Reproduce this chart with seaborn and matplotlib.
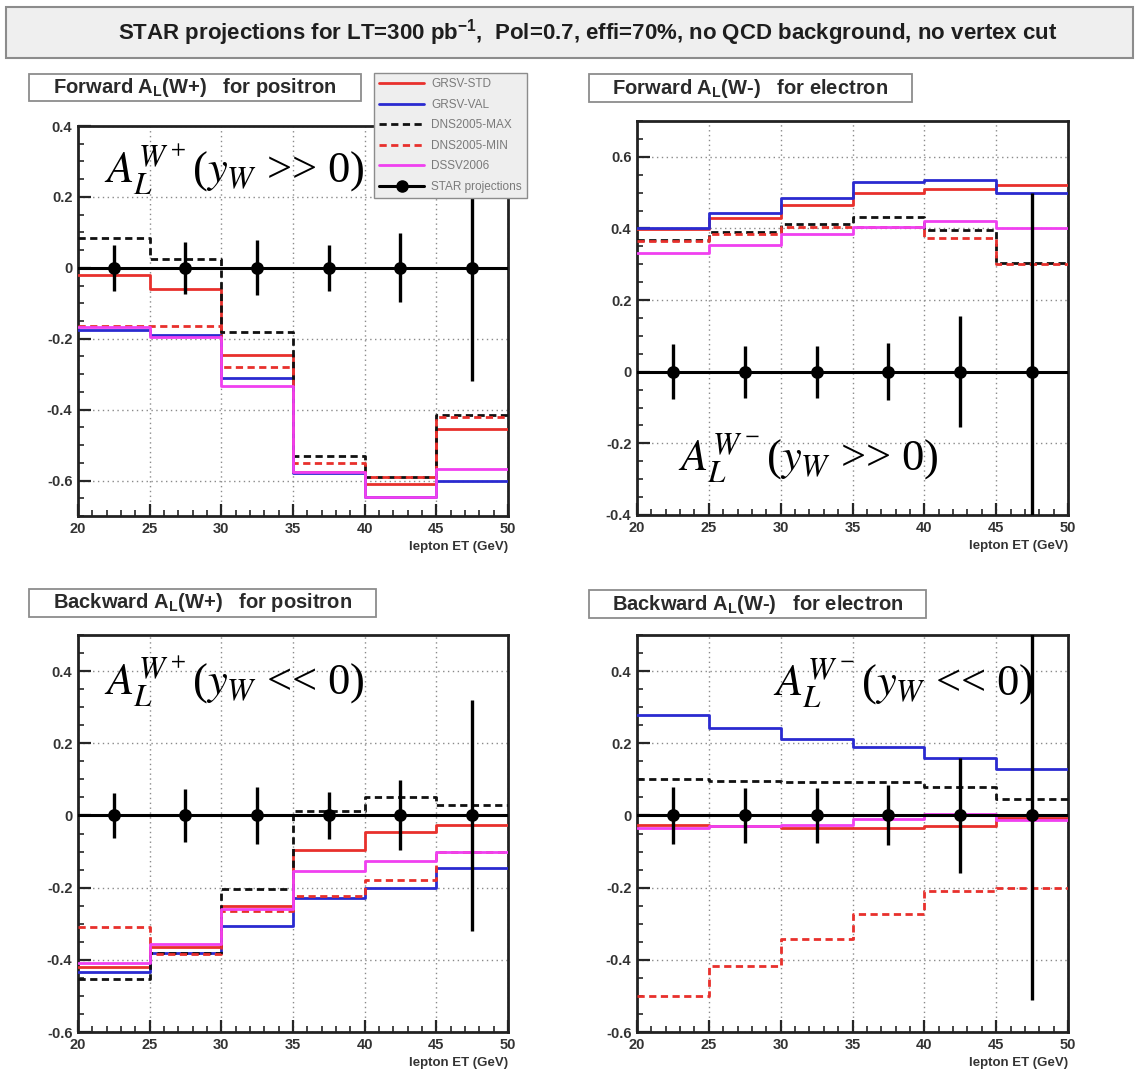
import numpy as np
import pandas as pd
import matplotlib
matplotlib.use("Agg")
import matplotlib.pyplot as plt
import seaborn as sns
from matplotlib.patches import Rectangle
from matplotlib.lines import Line2D
from matplotlib.ticker import MultipleLocator, FuncFormatter

# ---------------- data ----------------
ET_EDGES = [20, 25, 30, 35, 40, 45, 50]
ET_CENTERS = [22.5, 27.5, 32.5, 37.5, 42.5, 47.5]
MODELS = ["GRSV-STD", "GRSV-VAL", "DNS2005-MAX", "DNS2005-MIN", "DSSV2006"]

# Forward A_L(W+) positron
fwd_wp_std = [-0.02, -0.06, -0.245, -0.575, -0.61, -0.455]
fwd_wp_val = [-0.175, -0.19, -0.31, -0.58, -0.645, -0.60]
fwd_wp_max = [0.085, 0.025, -0.18, -0.53, -0.59, -0.415]
fwd_wp_min = [-0.165, -0.165, -0.28, -0.55, -0.59, -0.42]
fwd_wp_dssv = [-0.167, -0.195, -0.333, -0.575, -0.645, -0.567]
fwd_wp_star = [0, 0, 0, 0, 0, 0]
fwd_wp_err = [0.065, 0.074, 0.078, 0.065, 0.097, 0.32]

# Forward A_L(W-) electron
fwd_wm_std = [0.398, 0.43, 0.465, 0.498, 0.51, 0.52]
fwd_wm_val = [0.40, 0.443, 0.486, 0.53, 0.535, 0.498]
fwd_wm_max = [0.367, 0.39, 0.413, 0.433, 0.396, 0.303]
fwd_wm_min = [0.365, 0.385, 0.405, 0.405, 0.373, 0.30]
fwd_wm_dssv = [0.332, 0.355, 0.385, 0.405, 0.42, 0.40]
fwd_wm_star = [0, 0, 0, 0, 0, 0]
fwd_wm_err = [0.077, 0.072, 0.072, 0.08, 0.155, 0.5]

# Backward A_L(W+) positron
bwd_wp_std = [-0.42, -0.365, -0.25, -0.095, -0.047, -0.027]
bwd_wp_val = [-0.435, -0.38, -0.305, -0.228, -0.20, -0.145]
bwd_wp_max = [-0.452, -0.38, -0.205, 0.013, 0.05, 0.028]
bwd_wp_min = [-0.31, -0.385, -0.265, -0.222, -0.18, -0.10]
bwd_wp_dssv = [-0.41, -0.355, -0.26, -0.153, -0.127, -0.10]
bwd_wp_star = [0, 0, 0, 0, 0, 0]
bwd_wp_err = [0.063, 0.074, 0.078, 0.064, 0.097, 0.32]

# Backward A_L(W-) electron
bwd_wm_std = [-0.026, -0.029, -0.036, -0.036, -0.03, -0.008]
bwd_wm_val = [0.277, 0.242, 0.212, 0.189, 0.158, 0.129]
bwd_wm_max = [0.10, 0.096, 0.094, 0.094, 0.08, 0.045]
bwd_wm_min = [-0.50, -0.416, -0.342, -0.274, -0.209, -0.20]
bwd_wm_dssv = [-0.036, -0.029, -0.027, -0.01, 0.004, -0.012]
bwd_wm_star = [0, 0, 0, 0, 0, 0]
bwd_wm_err = [0.08, 0.075, 0.075, 0.083, 0.16, 0.51]

PANEL_TITLES = [
    r"Forward A$_{\mathregular{L}}$(W+)   for positron",
    r"Forward A$_{\mathregular{L}}$(W-)   for electron",
    r"Backward A$_{\mathregular{L}}$(W+)   for positron",
    r"Backward A$_{\mathregular{L}}$(W-)   for electron",
]
ANNOTATIONS = [
    r"$A_L^{W^+}$($y_W$ >> 0)",
    r"$A_L^{W^-}$($y_W$ >> 0)",
    r"$A_L^{W^+}$($y_W$ << 0)",
    r"$A_L^{W^-}$($y_W$ << 0)",
]
SUPTITLE = r"STAR projections for LT=300 pb$^{\mathregular{-1}}$,  Pol=0.7, effi=70%, no QCD background, no vertex cut"
XLABEL = "lepton ET (GeV)"

# ---------------- style ----------------
W, H = 1137, 1080
sns.set_style("ticks")
plt.rcParams["font.family"] = ["Liberation Sans", "DejaVu Sans"]

COLORS = {"GRSV-STD": "#e8302c", "GRSV-VAL": "#2a2ad0", "DNS2005-MAX": "#111111",
          "DNS2005-MIN": "#e8302c", "DSSV2006": "#f040f0"}
DASHED = {"GRSV-STD": False, "GRSV-VAL": False, "DNS2005-MAX": True,
          "DNS2005-MIN": True, "DSSV2006": False}


def fx(x):
    return x / W


def fy(y):
    return 1 - y / H


fig = plt.figure(figsize=(W / 100, H / 100), dpi=100)
fig.patch.set_facecolor("white")

# panel pixel boxes: left, top, right, bottom
PANELS = [
    dict(box=(78, 126, 508, 516), ylim=(-0.7, 0.4),
         data=[fwd_wp_std, fwd_wp_val, fwd_wp_max, fwd_wp_min, fwd_wp_dssv],
         star=fwd_wp_star, err=fwd_wp_err, tbox=(29, 74, 361, 101), ann=(104, 183)),
    dict(box=(637, 121, 1068, 515), ylim=(-0.4, 0.7),
         data=[fwd_wm_std, fwd_wm_val, fwd_wm_max, fwd_wm_min, fwd_wm_dssv],
         star=fwd_wm_star, err=fwd_wm_err, tbox=(589, 74, 912, 102), ann=(678, 470)),
    dict(box=(78, 635, 508, 1032), ylim=(-0.6, 0.5),
         data=[bwd_wp_std, bwd_wp_val, bwd_wp_max, bwd_wp_min, bwd_wp_dssv],
         star=bwd_wp_star, err=bwd_wp_err, tbox=(29, 589, 376, 617), ann=(104, 695)),
    dict(box=(637, 635, 1068, 1032), ylim=(-0.6, 0.5),
         data=[bwd_wm_std, bwd_wm_val, bwd_wm_max, bwd_wm_min, bwd_wm_dssv],
         star=bwd_wm_star, err=bwd_wm_err, tbox=(589, 590, 926, 618), ann=(773, 695)),
]


def fmt(v, pos):
    if abs(v) < 1e-9:
        return "0"
    return f"{v:g}"


for i, p in enumerate(PANELS):
    l, t, r, b = p["box"]
    ax = fig.add_axes([fx(l), fy(b), (r - l) / W, (b - t) / H])
    ax.set_facecolor("white")
    for name, vals in zip(MODELS, p["data"]):
        y = list(vals) + [vals[-1]]
        sns.lineplot(x=ET_EDGES, y=y, ax=ax, drawstyle="steps-post",
                     color=COLORS[name], linewidth=2.0, sort=False,
                     estimator=None, zorder=3)
        line = ax.lines[-1]
        if DASHED[name]:
            line.set_dashes((2.6, 1.6))
    ax.axhline(0, color="black", lw=2.2, zorder=4)
    ax.errorbar(ET_CENTERS, p["star"], yerr=p["err"], fmt="none",
                ecolor="black", elinewidth=2.4, capsize=0, zorder=5)
    sns.scatterplot(x=ET_CENTERS, y=p["star"], ax=ax, color="black", s=85,
                    edgecolor="black", linewidth=0, zorder=6)
    ax.set_xlim(20, 50)
    ax.set_ylim(*p["ylim"])
    ax.xaxis.set_major_locator(MultipleLocator(5))
    ax.xaxis.set_minor_locator(MultipleLocator(1))
    ax.yaxis.set_major_locator(MultipleLocator(0.2))
    ax.yaxis.set_minor_locator(MultipleLocator(0.05))
    ax.yaxis.set_major_formatter(FuncFormatter(fmt))
    ax.tick_params(which="major", direction="in", length=9, width=1.6,
                   labelsize=10.5, labelcolor="#333333", pad=4)
    ax.tick_params(which="minor", direction="in", length=4.5, width=1.2)
    ax.tick_params(axis="x", pad=4)
    for lab in ax.get_xticklabels() + ax.get_yticklabels():
        lab.set_fontweight("bold")
    ax.grid(True, which="major", color="#8a8a8a", linestyle=(0, (1, 2.5)), lw=1.0, zorder=0)
    for s in ax.spines.values():
        s.set_linewidth(2.0)
        s.set_color("#222222")
    ax.set_xlabel(XLABEL, fontsize=9.5, fontweight="bold", color="#333333",
                  loc="right", labelpad=4)
    ax.set_ylabel("")

    # panel title box
    tl, tt, tr, tb = p["tbox"]
    fig.patches.append(Rectangle((fx(tl), fy(tb)), (tr - tl) / W, (tb - tt) / H,
                                 transform=fig.transFigure, facecolor="white",
                                 edgecolor="#8c8c8c", lw=1.3, zorder=1))
    fig.text(fx((tl + tr) / 2), fy((tt + tb) / 2), PANEL_TITLES[i], ha="center",
             va="center", fontsize=14.5, fontweight="bold", color="#2a2a2a")

    # annotation
    ax_, ay_ = p["ann"]
    fig.text(fx(ax_), fy(ay_), ANNOTATIONS[i], ha="left", va="baseline",
             fontsize=32, family=["Liberation Serif", "DejaVu Serif"],
             fontweight="normal", math_fontfamily="stix", color="black", zorder=10)

# main title box
fig.patches.append(Rectangle((fx(6), fy(58)), (1133 - 6) / W, (58 - 7) / H,
                             transform=fig.transFigure, facecolor="#efefef",
                             edgecolor="#8c8c8c", lw=1.5, zorder=1))
fig.text(fx(588), fy(33), SUPTITLE, ha="center", va="center", fontsize=16,
         fontweight="bold", color="#1e1e1e")

# legend
handles = []
for name in MODELS:
    if DASHED[name]:
        h = Line2D([], [], color=COLORS[name], lw=2.0, dashes=(2.6, 1.6))
    else:
        h = Line2D([], [], color=COLORS[name], lw=2.0)
    handles.append(h)
handles.append(Line2D([], [], color="black", lw=2.2, marker="o", markersize=8))
labels = MODELS + ["STAR projections"]
leg = fig.legend(handles, labels, loc="upper left", bbox_to_anchor=(fx(374), fy(73)),
                 bbox_transform=fig.transFigure, frameon=True, fancybox=False,
                 facecolor="#eeeeee", edgecolor="#8c8c8c", framealpha=1,
                 fontsize=8.5, labelcolor="#7a7a7a", handlelength=3.8,
                 labelspacing=0.72, borderpad=0.45, handletextpad=0.6,
                 borderaxespad=0)

fig.savefig("out.png", dpi=100)
